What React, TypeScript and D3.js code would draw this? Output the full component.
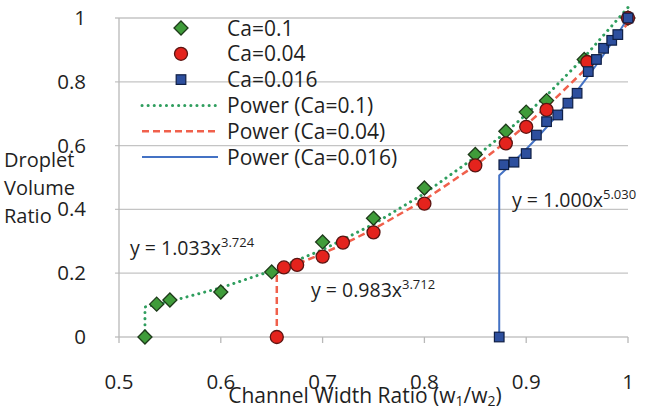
import React from 'react';
import * as d3 from 'd3';

// values
const ca01X = [0.5255, 0.537, 0.55, 0.6, 0.65, 0.7, 0.75, 0.8, 0.85, 0.88, 0.9, 0.92, 0.957, 1.0];
const ca01Y = [0, 0.103, 0.116, 0.141, 0.204, 0.298, 0.372, 0.467, 0.572, 0.645, 0.705, 0.741, 0.87, 1.0];

const ca004X = [0.655, 0.662, 0.675, 0.7, 0.72, 0.75, 0.8, 0.85, 0.88, 0.9, 0.92, 0.96, 1.0];
const ca004Y = [0, 0.218, 0.226, 0.252, 0.296, 0.328, 0.418, 0.538, 0.607, 0.659, 0.712, 0.862, 1.0];

const ca0016X = [0.8735, 0.878, 0.888, 0.9, 0.91, 0.92, 0.931, 0.941, 0.95, 0.961, 0.969, 0.976, 0.984, 0.99, 1.0];
const ca0016Y = [0, 0.54, 0.548, 0.575, 0.633, 0.675, 0.696, 0.733, 0.764, 0.832, 0.87, 0.905, 0.93, 0.948, 1.0];

// power fits y = a * x^b shown on the chart
const fitA = [1.033, 0.983, 1.0];
const fitB = [3.724, 3.712, 5.03];
const fitLabelA = ['1.033', '0.983', '1.000'];
const fitLabelB = ['3.724', '3.712', '5.030'];

const xTicks = [0.5, 0.6, 0.7, 0.8, 0.9, 1];
const yTicks = [0, 0.2, 0.4, 0.6, 0.8, 1];
const legendLabels = ['Ca=0.1', 'Ca=0.04', 'Ca=0.016', 'Power (Ca=0.1)', 'Power (Ca=0.04)', 'Power (Ca=0.016)'];

const W = 646;
const H = 412;
const FONT = '"Open Sans", sans-serif';

const green = '#3f9c3a';
const red = '#e4231d';
const blue = '#2d4f9e';
const greenLine = '#2f9e5e';
const redLine = '#f0604c';
const blueLine = '#4472c4';

const x = d3.scaleLinear().domain([0.5, 1]).range([119, 628]);
const y = d3.scaleLinear().domain([0, 1]).range([337, 18]);

const fmt = (v: number) => (v === 0 || v === 1 ? String(v) : v.toFixed(1));

const trend = (xs: number[], i: number): [number, number][] => {
  const pts: [number, number][] = [[xs[0], 0]];
  xs.forEach((v) => pts.push([v, fitA[i] * Math.pow(v, fitB[i])]));
  return pts;
};

const line = d3
  .line<[number, number]>()
  .x((d) => x(d[0]))
  .y((d) => y(d[1]));

const diamond = d3.symbol(d3.symbolDiamond2, 125);

const App: React.FC = () => {
  const series = [
    { xs: ca01X, ys: ca01Y },
    { xs: ca004X, ys: ca004Y },
    { xs: ca0016X, ys: ca0016Y },
  ];
  const lineStyles = [
    { stroke: greenLine, width: 3, dash: '0.1 6', cap: 'round' as const },
    { stroke: redLine, width: 2.5, dash: '7 4', cap: 'butt' as const },
    { stroke: blueLine, width: 2, dash: undefined, cap: 'butt' as const },
  ];

  const marker = (k: number, cx: number, cy: number, key: string) => {
    if (k === 0)
      return <path key={key} d={diamond() as string} transform={`translate(${cx},${cy})`} fill={green} stroke="#1e3a1a" strokeWidth={1.3} />;
    if (k === 1) return <circle key={key} cx={cx} cy={cy} r={6.5} fill={red} stroke="#5a1512" strokeWidth={1.3} />;
    return <rect key={key} x={cx - 4.8} y={cy - 4.8} width={9.6} height={9.6} fill={blue} stroke="#0f1f45" strokeWidth={1.2} />;
  };

  const legendY = (i: number) => 28 + i * 25.8;

  return (
    <svg width={W} height={H} style={{ position: 'absolute', left: 0, top: 0, background: '#fff' }} fontFamily={FONT}>
      {/* grid */}
      {yTicks.map((t) => (
        <line key={t} x1={115} x2={628} y1={y(t)} y2={y(t)} stroke="#c4c4c4" strokeWidth={1.3} />
      ))}
      <line x1={119} x2={119} y1={y(1)} y2={y(0)} stroke="#b8b8b8" strokeWidth={1.3} />
      {xTicks.map((t) => (
        <line key={t} x1={x(t)} x2={x(t)} y1={y(0)} y2={y(0) + 6} stroke="#b8b8b8" strokeWidth={1.3} />
      ))}

      {/* tick labels */}
      {yTicks.map((t) => (
        <text key={t} x={86} y={y(t) + 7} textAnchor="end" fontSize={20.5} fill="#1f1f1f">
          {fmt(t)}
        </text>
      ))}
      {xTicks.map((t) => (
        <text key={t} x={x(t)} y={389} textAnchor="middle" fontSize={20.5} fill="#1f1f1f">
          {fmt(t)}
        </text>
      ))}

      {/* axis titles */}
      <text x={365} y={403} textAnchor="middle" fontSize={21} fill="#1f1f1f">
        Channel Width Ratio (w<tspan fontSize={14} dy={3}>1</tspan><tspan dy={-3}>/w</tspan>
        <tspan fontSize={14} dy={3}>2</tspan><tspan dy={-3}>)</tspan>
      </text>
      {['Droplet', 'Volume', 'Ratio'].map((s, i) => (
        <text key={s} x={4} y={167 + i * 28} fontSize={20} fill="#1f1f1f">
          {s}
        </text>
      ))}

      {/* trendlines */}
      {series.map((s, i) => (
        <path
          key={i}
          d={line(trend(s.xs, i)) as string}
          fill="none"
          stroke={lineStyles[i].stroke}
          strokeWidth={lineStyles[i].width}
          strokeDasharray={lineStyles[i].dash}
          strokeLinecap={lineStyles[i].cap}
        />
      ))}

      {/* markers */}
      {series.map((s, k) => s.xs.map((v, j) => marker(k, x(v), y(s.ys[j]), `${k}-${j}`)))}

      {/* fit equations */}
      {[
        [130, 255],
        [311, 297],
        [512, 207],
      ].map(([tx, ty], i) => (
        <text key={i} x={tx} y={ty} fontSize={19.5} fill="#1f1f1f">
          y = {fitLabelA[i]}x<tspan fontSize={13} dy={-8}>{fitLabelB[i]}</tspan>
        </text>
      ))}

      {/* legend */}
      {legendLabels.map((lab, i) => (
        <g key={lab}>
          {i < 3 ? (
            marker(i, 181, legendY(i), `lg${i}`)
          ) : (
            <line
              x1={142}
              x2={218}
              y1={legendY(i)}
              y2={legendY(i)}
              stroke={lineStyles[i - 3].stroke}
              strokeWidth={lineStyles[i - 3].width}
              strokeDasharray={lineStyles[i - 3].dash}
              strokeLinecap={lineStyles[i - 3].cap}
            />
          )}
          <text x={227} y={legendY(i) + 7.5} fontSize={21} fill="#1f1f1f">
            {lab}
          </text>
        </g>
      ))}
    </svg>
  );
};

export default App;
